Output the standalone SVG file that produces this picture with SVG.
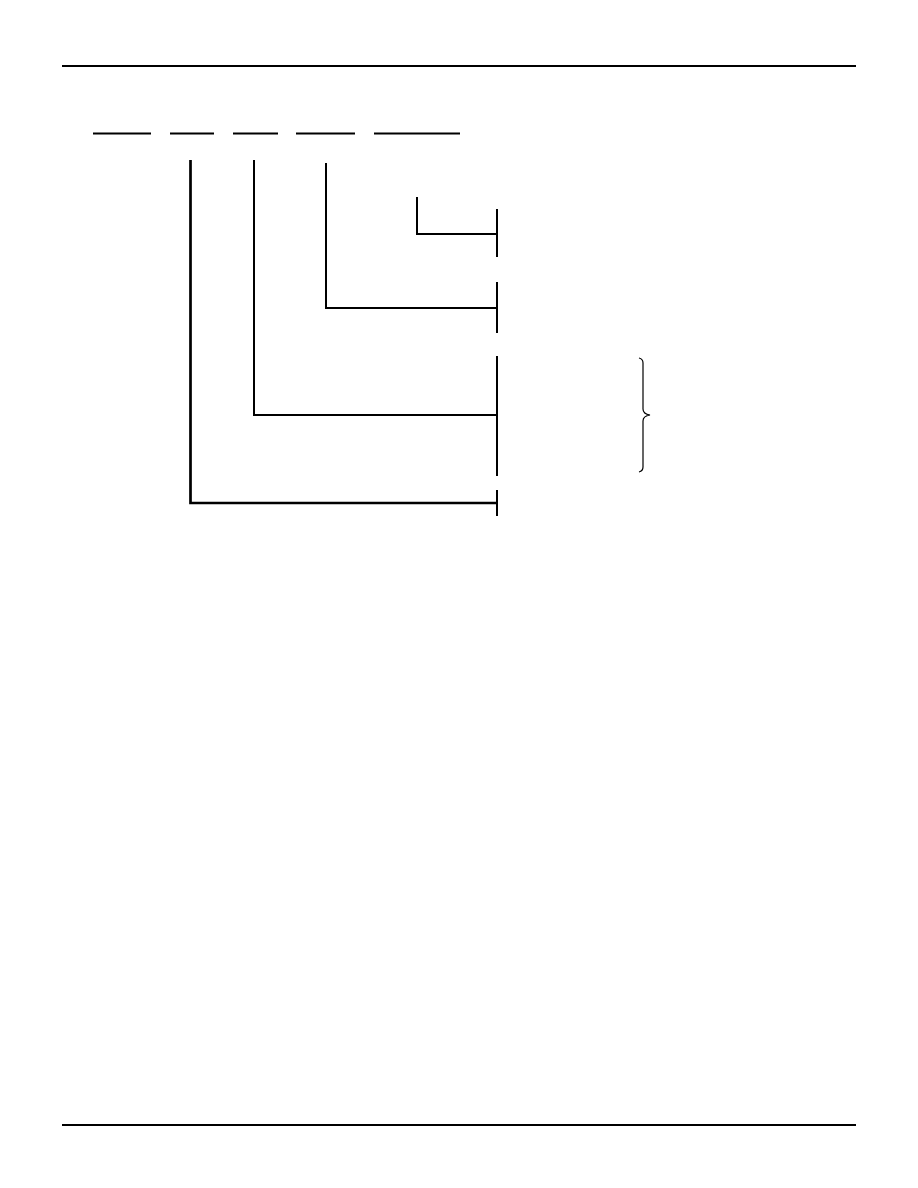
<svg xmlns="http://www.w3.org/2000/svg" width="918" height="1188" viewBox="0 0 918 1188">
<style>
.ln{stroke:#000;fill:none;stroke-linecap:butt}
.w2{stroke-width:2}
.w3{stroke-width:2.7}
.br{stroke:#000;fill:none;stroke-width:1.2}
</style>
<rect width="918" height="1188" fill="#fff"/>
<g id="rules">
<line class="ln w2" x1="62" y1="66" x2="856" y2="66"/>
<line class="ln w2" x1="62" y1="1125" x2="856" y2="1125"/>
</g>
<g id="fields">
<line class="ln w2" x1="93" y1="133.5" x2="151" y2="133.5"/>
<line class="ln w2" x1="170" y1="133.5" x2="214" y2="133.5"/>
<line class="ln w2" x1="233" y1="133.5" x2="278" y2="133.5"/>
<line class="ln w2" x1="296" y1="133.5" x2="355" y2="133.5"/>
<line class="ln w2" x1="374" y1="133.5" x2="460" y2="133.5"/>
</g>
<g id="connectors">
<polyline class="ln w2" points="417,197 417,234 497,234"/>
<polyline class="ln w2" points="326,163 326,308 497,308"/>
<polyline class="ln w2" points="254,160 254,415 497,415"/>
<polyline class="ln w3" points="190.5,160 190.5,503 497,503"/>
</g>
<g id="ticks">
<line class="ln w2" x1="497" y1="209" x2="497" y2="257"/>
<line class="ln w2" x1="497" y1="282" x2="497" y2="333"/>
<line class="ln w2" x1="497" y1="356" x2="497" y2="476"/>
<line class="ln w2" x1="497" y1="490" x2="497" y2="516"/>
</g>
<g id="brace">
<path class="br" d="M639,358 Q643,359 643,363 L643,409 Q643,414 650,415 Q643,416 643,421 L643,467 Q643,471 639,472"/>
</g>
</svg>
